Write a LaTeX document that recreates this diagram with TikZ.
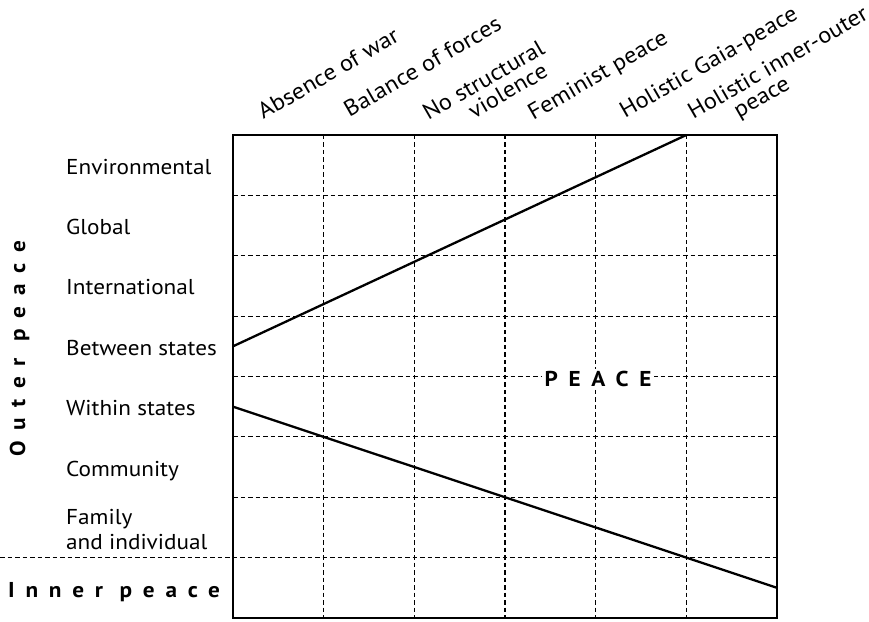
\documentclass[tikz,border=0pt]{standalone}
\usepackage{fontspec}
\usetikzlibrary{calc}
\setmainfont{PT Sans}[FakeStretch=1.08]
\newfontfamily\spacedfont{PT Sans}[FakeStretch=1.08,LetterSpace=50]
\begin{document}
\begin{tikzpicture}[x=1pt,y=1pt,
  font=\fontsize{21.5}{25}\selectfont,
  gridline/.style={line width=1.1pt,dash pattern=on 4.5pt off 3pt,black},
  frame/.style={line width=1.3pt,black},
  boundary/.style={line width=2.3pt,black},
  rowlab/.style={anchor=base west,inner sep=0pt},
  collab/.style={anchor=base west,inner sep=0pt,rotate=30,font=\fontsize{22.6}{26}\selectfont},
  spaced/.style={inner sep=0pt,font=\fontsize{21.5}{25}\spacedfont\bfseries},
  peacebox/.style={spaced,fill=white,inner xsep=3pt,inner ysep=2pt,anchor=base}]
\useasboundingbox (0,0) rectangle (869,621);
\def\gl{233}\def\gr{777}\def\gt{486}\def\gb{3}
\def\cw{90.6667}\def\rh{60.375}
\coordinate (NW) at (\gl,\gt);
\coordinate (SE) at (\gr,\gb);
% grid
\foreach \i in {1,...,5}
  \draw[gridline] ({\gl+\i*\cw},\gt) -- ({\gl+\i*\cw},\gb);
\foreach \j in {1,...,6}
  \draw[gridline] (\gl,{\gt-\j*\rh}) -- (\gr,{\gt-\j*\rh});
\coordinate (innerL) at (0,{\gt-7*\rh});
\coordinate (innerR) at (\gr,{\gt-7*\rh});
\draw[gridline] (innerL) -- (innerR);
% boundary lines
\coordinate (upA) at (\gl,{\gt-3.5*\rh});
\coordinate (upB) at ({\gl+5*\cw},\gt);
\coordinate (loA) at (\gl,{\gt-4.5*\rh});
\coordinate (loB) at (\gr,{\gt-7.5*\rh});
\draw[boundary] (upA) -- (upB);
\draw[boundary] (loA) -- (loB);
\draw[frame] (NW) rectangle (SE);
% PEACE
\node[peacebox] (peace) at (598,234.3) {PEACE};
% row labels
\node[rowlab] (env) at (66,446.8) {Environmental};
\node[rowlab] (glob) at (66,386.4) {Global};
\node[rowlab] (intl) at (66,326.1) {International};
\node[rowlab] (betw) at (66,265.7) {Between states};
\node[rowlab] (with) at (66,205.3) {Within states};
\node[rowlab] (comm) at (66,145.0) {Community};
\node[inner sep=0pt,anchor=south west,align=left] (fam) at (66,71) {Family\\and individual};
% side labels
\node[spaced,anchor=base west] (inner) at (8,24) {Inner peace};
\node[spaced,rotate=90,anchor=base] (outer) at (25,272) {Outer peace};
% column labels
\node[collab] (c1) at (263.3,501) {Absence of war};
\node[collab] (c2) at (349.3,503.7) {Balance of forces};
\node[collab] (c3) at (428.3,500.3) {No structural};
\node[collab] (c3b) at ($(c3.base west)+(30:40pt)+(-60:21.5pt)$) {violence};
\node[collab] (c4) at (533.3,500.3) {Feminist peace};
\node[collab] (c5) at (625,502) {Holistic Gaia-peace};
\node[collab] (c6) at (693.3,501) {Holistic inner-outer};
\node[collab] (c6b) at ($(c6.base west)+(30:40pt)+(-60:21.5pt)$) {peace};
\end{tikzpicture}
\end{document}
